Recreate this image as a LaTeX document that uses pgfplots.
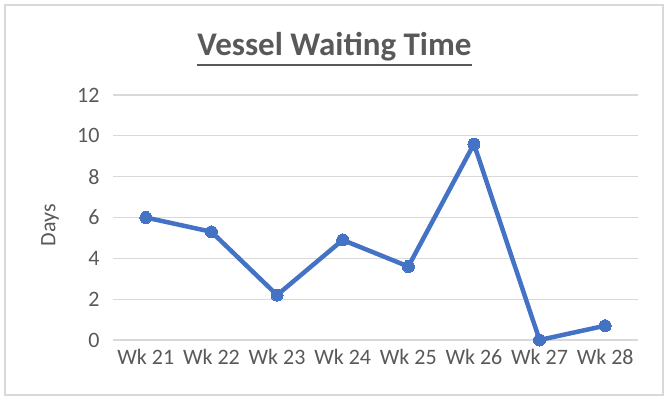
\documentclass[border=0pt]{standalone}
\usepackage{pgfplots}
\pgfplotsset{compat=1.18}
\usepackage{fontspec}
\setmainfont{Carlito}
\definecolor{txt}{HTML}{595959}
\definecolor{grd}{HTML}{D9D9D9}
\definecolor{ln}{HTML}{4472C4}
\begin{document}
\begin{tikzpicture}[x=1pt,y=1pt]
\path[use as bounding box] (0,0) rectangle (669,400);
\draw[grd, line width=1.5pt] (5,5) rectangle (663,395);
\node[txt, font=\bfseries\fontsize{33}{38}\selectfont, inner sep=0pt] (t) at (334.5,353) {Vessel Waiting Time};
\draw[txt, line width=2pt] (t.west |- 0,335) -- (t.east |- 0,335);
\node[txt, rotate=90, font=\fontsize{22}{26}\selectfont] at (50,175) {Days};
\begin{axis}[
  at={(113pt,60pt)}, anchor=south west,
  scale only axis, width=525pt, height=245pt,
  xmin=-0.5, xmax=7.5, ymin=0, ymax=12,
  xtick={0,...,7},
  xticklabels={Wk 21,Wk 22,Wk 23,Wk 24,Wk 25,Wk 26,Wk 27,Wk 28},
  ytick={0,2,...,12},
  ymajorgrids, major grid style={grd, line width=1.3pt},
  axis line style={draw=none}, tick style={draw=none},
  ticklabel style={txt, font=\fontsize{22}{26}\selectfont},
  /pgf/number format/assume math mode=true,
  xticklabel style={yshift=-6pt},
  yticklabel style={xshift=-10pt},
  clip=false,
]
\addplot[ln, line width=4.5pt, mark=*, mark size=6pt, mark options={fill=ln, draw=ln, line width=0pt}, line join=round] coordinates {
(0,6.0) (1,5.3) (2,2.2) (3,4.9) (4,3.6) (5,9.6) (6,0.0) (7,0.7)
};
\end{axis}
\end{tikzpicture}
\end{document}
